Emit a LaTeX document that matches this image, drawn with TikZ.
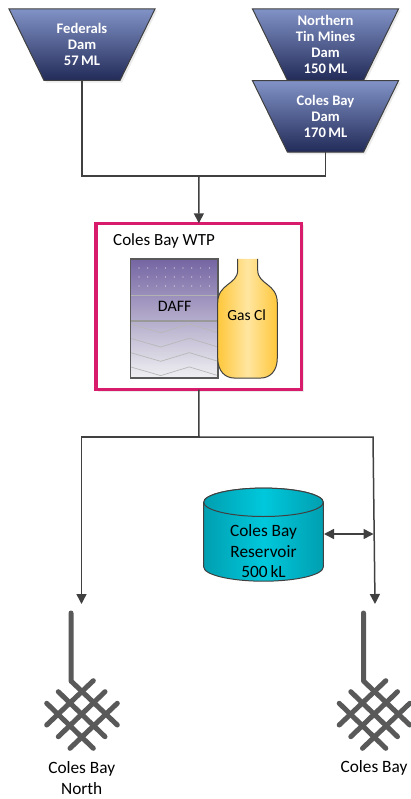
\documentclass[tikz,border=0pt]{standalone}
\usepackage{fontspec}
\setmainfont{Carlito}
\usetikzlibrary{arrows.meta,calc}
\definecolor{linegray}{HTML}{404040}
\definecolor{tapgray}{HTML}{595959}
\definecolor{damtop}{HTML}{8192C6}
\definecolor{dambot}{HTML}{222B58}
\definecolor{wtppink}{HTML}{D81B6B}
\definecolor{shadowgray}{HTML}{EBEBEB}
\definecolor{dafftop}{HTML}{7565A3}
\definecolor{daffbot}{HTML}{F0F0F2}
\definecolor{gasedge}{HTML}{FFC83C}
\definecolor{gasmid}{HTML}{FFE6A0}
\definecolor{resedge}{HTML}{009FB0}
\definecolor{resmid}{HTML}{00C8DC}
\tikzset{
  damtext/.style={minimum width=146pt,minimum height=71.5pt,inner sep=0pt,align=center,text=white,font=\fontsize{14.6}{16}\selectfont\bfseries},
  label/.style={inner sep=0pt,align=center,text=black,font=\fontsize{17.3}{20.5}\selectfont},
  conn/.style={draw=linegray,line width=1.5pt},
  arr/.style={conn,-{Triangle[length=10pt,width=10pt]}},
  biarr/.style={conn,{Triangle[length=10pt,width=10pt]}-{Triangle[length=10pt,width=10pt]}},
  tapline/.style={draw=tapgray,line width=5pt,line cap=round,line join=round},
}
\newcommand{\damshape}[2]{%
  \path[fill=shadowgray] ($(#1,#2)+(-71,-34)$) -- ($(#1,#2)+(75,-34)$) -- ($(#1,#2)+(40,38)$) -- ($(#1,#2)+(-36,38)$) -- cycle;
  \path[draw=linegray,line width=1pt,top color=damtop,bottom color=dambot] ($(#1,#2)+(-73,-35.75)$) -- ($(#1,#2)+(73,-35.75)$) -- ($(#1,#2)+(38,35.75)$) -- ($(#1,#2)+(-38,35.75)$) -- cycle;
}
\newcommand{\tapshape}[1]{%
  \begin{scope}[shift={(#1,0)}]
    \draw[tapline] (71,613) -- (71,681) -- (117.3,725);
    \draw[tapline] (58.3,691.7) -- (105,736.7);
    \draw[tapline] (46.7,703.3) -- (93.3,748.3);
    \draw[tapline] (93.3,680.7) -- (46.7,725);
    \draw[tapline] (105,691.7) -- (58.3,736.7);
    \draw[tapline] (117.3,703.3) -- (70,748.3);
  \end{scope}
}
\newcommand{\bottlepath}{(237.7,259) -- (237.7,270) .. controls (237.7,285) and (217.7,283) .. (217.7,303) -- (217.7,358) .. controls (217.7,372) and (226,378) .. (234,378) -- (261,378) .. controls (269,378) and (277.3,372) .. (277.3,358) -- (277.3,303) .. controls (277.3,283) and (257.7,285) .. (257.7,270) -- (257.7,259)}
\begin{document}
\begin{tikzpicture}[x=1pt,y=-1pt]
\useasboundingbox (0,0) rectangle (411,799);
% dams
\damshape{82}{44.75}
\node[damtext] (federals) at (82,44.75) {Federals\\Dam\\57\,ML};
\damshape{325.5}{44.75}
\node[damtext] (northern) at (325.5,44.75) {Northern\\Tin Mines\\Dam\\150\,ML};
\damshape{325.5}{116.5}
\node[damtext] (colesdam) at (325.5,116.5) {Coles Bay\\Dam\\170\,ML};
% WTP
\path[fill=shadowgray] (98,225.5) rectangle (304,392);
\node[draw=wtppink,fill=white,line width=3.5pt,minimum width=205.7pt,minimum height=166.4pt,inner sep=0pt,outer sep=0pt] (wtp) at (198.85,306.5) {};
\node[inner sep=0pt,anchor=west,font=\fontsize{17}{20}\selectfont] (wtptitle) at (113,240.5) {Coles Bay WTP};
% DAFF
\path[top color=dafftop,bottom color=daffbot] (130.5,259) rectangle (218,378);
\foreach \yy in {268,277,286}{\foreach \xx in {0,...,8}{\fill[white!80!gray] (139+\xx*8.8,\yy) circle (0.6);}}
\draw[draw=black!30!white,line width=0.7pt] (130.5,295) -- (218,295);
\draw[draw=black!40!white,line width=1.1pt] (130.5,321) -- (218,321);
\foreach \dy in {0,14.3,28.6,42.9}{
  \draw[draw=black!28!white,line width=0.7pt] (130.5,324+\dy) -- (160.7,332.7+\dy) -- (189.3,324+\dy) -- (218,332.7+\dy);
}
\draw[draw=tapgray,line width=1.2pt] (130.5,259) rectangle (218,378);
\node[inner sep=0pt,font=\fontsize{16}{19}\selectfont] (daff) at (174.7,306.5) {DAFF};
% Bottle
\path[left color=gasedge,right color=gasedge,middle color=gasmid] \bottlepath -- cycle;
\draw[draw=linegray,line width=1pt] \bottlepath;
\node[inner sep=0pt,font=\fontsize{15.5}{18}\selectfont] (gascl) at (246.7,315.5) {Gas Cl};
% Reservoir
\path[left color=resedge,right color=resedge,middle color=resmid,draw=linegray,line width=1pt]
  (203.7,502.3) -- (203.7,567) arc[start angle=180,end angle=0,x radius=59.8,y radius=14.2] -- (323.3,502.3) arc[start angle=0,end angle=-180,x radius=59.8,y radius=14.2] -- cycle;
\path[left color=resedge,right color=resedge,middle color=resmid,draw=linegray,line width=1pt]
  (263.5,502.3) ellipse[x radius=59.8,y radius=14.2];
\node[label,minimum width=119.6pt,minimum height=93pt] (reservoir) at (263.5,551.5) {Coles Bay\\Reservoir\\500\,kL};
% taps
\tapshape{0}
\tapshape{292.5}
\node[label] (northlabel) at (81.7,778) {Coles Bay\\North};
\node[label] (southlabel) at (374,768) {Coles Bay};
% connectors
\coordinate (joinin) at (199,176);
\coordinate (joinout) at (199,437);
\coordinate (tipl) at (81.5,604);
\coordinate (tipr) at (375,604);
\coordinate (resjoin) at (373.5,534);
\draw[conn,line join=miter] (federals.south) |- (joinin);
\draw[conn] (colesdam.south) |- (joinin);
\draw[arr] (joinin) -- (wtp.north);
\draw[conn] (wtp.south) -- (joinout);
\draw[arr] (joinout) -| (tipl);
\draw[arr] (joinout) -- (373,437) -- (tipr);
\draw[biarr] (324,534) -- (resjoin);
\end{tikzpicture}
\end{document}
